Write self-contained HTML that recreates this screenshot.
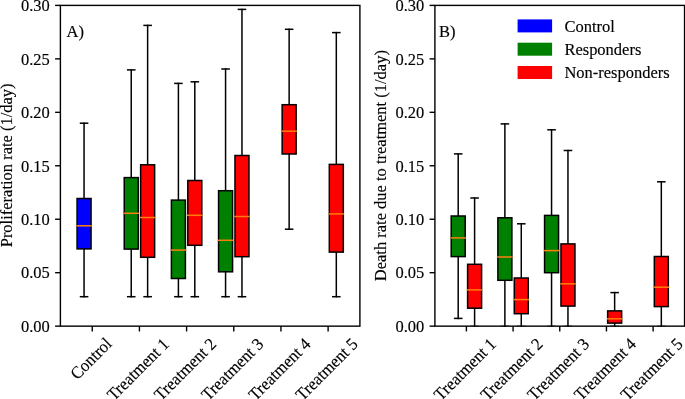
<!DOCTYPE html>
<html><head><meta charset="utf-8"><style>
html,body{margin:0;padding:0;background:#fff;}
svg{display:block;will-change:transform;filter:blur(0.3px);}
text{font-family:"Liberation Serif",serif;font-size:16.5px;fill:#000;stroke:#000;stroke-width:0.15px;}
.k{stroke:#000;stroke-width:1.5;stroke-linecap:square;}
.sp{stroke:#000;stroke-width:1.4;stroke-linecap:butt;}
.bx{stroke:#000;stroke-width:1.5;}
.md{stroke:#ff7f0e;stroke-width:1.5;stroke-linecap:square;}
</style></head><body>
<svg width="685" height="399" viewBox="0 0 685 399">
<line x1="55.1" y1="326.15" x2="60.4" y2="326.15" class="sp"/>
<text transform="translate(49.75,331.95) scale(1,1.045)" text-anchor="end">0.00</text>
<line x1="55.1" y1="272.69" x2="60.4" y2="272.69" class="sp"/>
<text transform="translate(49.75,278.49) scale(1,1.045)" text-anchor="end">0.05</text>
<line x1="55.1" y1="219.23" x2="60.4" y2="219.23" class="sp"/>
<text transform="translate(49.75,225.03) scale(1,1.045)" text-anchor="end">0.10</text>
<line x1="55.1" y1="165.77" x2="60.4" y2="165.77" class="sp"/>
<text transform="translate(49.75,171.57) scale(1,1.045)" text-anchor="end">0.15</text>
<line x1="55.1" y1="112.32" x2="60.4" y2="112.32" class="sp"/>
<text transform="translate(49.75,118.12) scale(1,1.045)" text-anchor="end">0.20</text>
<line x1="55.1" y1="58.86" x2="60.4" y2="58.86" class="sp"/>
<text transform="translate(49.75,64.66) scale(1,1.045)" text-anchor="end">0.25</text>
<line x1="55.1" y1="5.4" x2="60.4" y2="5.4" class="sp"/>
<text transform="translate(49.75,11.2) scale(1,1.045)" text-anchor="end">0.30</text>
<line x1="92.26" y1="326.15" x2="92.26" y2="331.45" class="sp"/>
<line x1="139.43" y1="326.15" x2="139.43" y2="331.45" class="sp"/>
<line x1="186.6" y1="326.15" x2="186.6" y2="331.45" class="sp"/>
<line x1="233.77" y1="326.15" x2="233.77" y2="331.45" class="sp"/>
<line x1="280.94" y1="326.15" x2="280.94" y2="331.45" class="sp"/>
<line x1="328.11" y1="326.15" x2="328.11" y2="331.45" class="sp"/>
<line x1="429.6" y1="326.15" x2="434.9" y2="326.15" class="sp"/>
<text transform="translate(424.25,331.95) scale(1,1.045)" text-anchor="end">0.00</text>
<line x1="429.6" y1="272.69" x2="434.9" y2="272.69" class="sp"/>
<text transform="translate(424.25,278.49) scale(1,1.045)" text-anchor="end">0.05</text>
<line x1="429.6" y1="219.23" x2="434.9" y2="219.23" class="sp"/>
<text transform="translate(424.25,225.03) scale(1,1.045)" text-anchor="end">0.10</text>
<line x1="429.6" y1="165.77" x2="434.9" y2="165.77" class="sp"/>
<text transform="translate(424.25,171.57) scale(1,1.045)" text-anchor="end">0.15</text>
<line x1="429.6" y1="112.32" x2="434.9" y2="112.32" class="sp"/>
<text transform="translate(424.25,118.12) scale(1,1.045)" text-anchor="end">0.20</text>
<line x1="429.6" y1="58.86" x2="434.9" y2="58.86" class="sp"/>
<text transform="translate(424.25,64.66) scale(1,1.045)" text-anchor="end">0.25</text>
<line x1="429.6" y1="5.4" x2="434.9" y2="5.4" class="sp"/>
<text transform="translate(424.25,11.2) scale(1,1.045)" text-anchor="end">0.30</text>
<line x1="466.4" y1="326.15" x2="466.4" y2="331.45" class="sp"/>
<line x1="513.08" y1="326.15" x2="513.08" y2="331.45" class="sp"/>
<line x1="559.76" y1="326.15" x2="559.76" y2="331.45" class="sp"/>
<line x1="606.44" y1="326.15" x2="606.44" y2="331.45" class="sp"/>
<line x1="653.12" y1="326.15" x2="653.12" y2="331.45" class="sp"/>
<line x1="84.06" y1="123.2" x2="84.06" y2="198.5" class="k"/>
<line x1="84.06" y1="248.9" x2="84.06" y2="296.7" class="k"/>
<line x1="80.51" y1="123.2" x2="87.61" y2="123.2" class="k"/>
<line x1="80.51" y1="296.7" x2="87.61" y2="296.7" class="k"/>
<rect x="77.06" y="198.5" width="14" height="50.4" fill="#0000ff" class="bx"/>
<line x1="77.06" y1="225.8" x2="91.06" y2="225.8" class="md"/>
<line x1="131.23" y1="69.9" x2="131.23" y2="177.6" class="k"/>
<line x1="131.23" y1="249.1" x2="131.23" y2="296.7" class="k"/>
<line x1="127.68" y1="69.9" x2="134.78" y2="69.9" class="k"/>
<line x1="127.68" y1="296.7" x2="134.78" y2="296.7" class="k"/>
<rect x="124.23" y="177.6" width="14" height="71.5" fill="#008000" class="bx"/>
<line x1="124.23" y1="213.3" x2="138.23" y2="213.3" class="md"/>
<line x1="147.63" y1="25.4" x2="147.63" y2="164.8" class="k"/>
<line x1="147.63" y1="257.3" x2="147.63" y2="296.7" class="k"/>
<line x1="144.08" y1="25.4" x2="151.18" y2="25.4" class="k"/>
<line x1="144.08" y1="296.7" x2="151.18" y2="296.7" class="k"/>
<rect x="140.63" y="164.8" width="14" height="92.5" fill="#ff0000" class="bx"/>
<line x1="140.63" y1="217.5" x2="154.63" y2="217.5" class="md"/>
<line x1="178.4" y1="83.4" x2="178.4" y2="200.1" class="k"/>
<line x1="178.4" y1="278.5" x2="178.4" y2="296.7" class="k"/>
<line x1="174.85" y1="83.4" x2="181.95" y2="83.4" class="k"/>
<line x1="174.85" y1="296.7" x2="181.95" y2="296.7" class="k"/>
<rect x="171.4" y="200.1" width="14" height="78.4" fill="#008000" class="bx"/>
<line x1="171.4" y1="250.1" x2="185.4" y2="250.1" class="md"/>
<line x1="194.8" y1="81.8" x2="194.8" y2="180.5" class="k"/>
<line x1="194.8" y1="245.3" x2="194.8" y2="296.7" class="k"/>
<line x1="191.25" y1="81.8" x2="198.35" y2="81.8" class="k"/>
<line x1="191.25" y1="296.7" x2="198.35" y2="296.7" class="k"/>
<rect x="187.8" y="180.5" width="14" height="64.8" fill="#ff0000" class="bx"/>
<line x1="187.8" y1="215.3" x2="201.8" y2="215.3" class="md"/>
<line x1="225.57" y1="69" x2="225.57" y2="190.7" class="k"/>
<line x1="225.57" y1="271.8" x2="225.57" y2="296.7" class="k"/>
<line x1="222.02" y1="69" x2="229.12" y2="69" class="k"/>
<line x1="222.02" y1="296.7" x2="229.12" y2="296.7" class="k"/>
<rect x="218.57" y="190.7" width="14" height="81.1" fill="#008000" class="bx"/>
<line x1="218.57" y1="240.3" x2="232.57" y2="240.3" class="md"/>
<line x1="241.97" y1="9.4" x2="241.97" y2="155.5" class="k"/>
<line x1="241.97" y1="256.7" x2="241.97" y2="296.7" class="k"/>
<line x1="238.42" y1="9.4" x2="245.52" y2="9.4" class="k"/>
<line x1="238.42" y1="296.7" x2="245.52" y2="296.7" class="k"/>
<rect x="234.97" y="155.5" width="14" height="101.2" fill="#ff0000" class="bx"/>
<line x1="234.97" y1="216.5" x2="248.97" y2="216.5" class="md"/>
<line x1="289.14" y1="29.3" x2="289.14" y2="104.7" class="k"/>
<line x1="289.14" y1="154" x2="289.14" y2="229.2" class="k"/>
<line x1="285.59" y1="29.3" x2="292.69" y2="29.3" class="k"/>
<line x1="285.59" y1="229.2" x2="292.69" y2="229.2" class="k"/>
<rect x="282.14" y="104.7" width="14" height="49.3" fill="#ff0000" class="bx"/>
<line x1="282.14" y1="131.2" x2="296.14" y2="131.2" class="md"/>
<line x1="336.31" y1="32.6" x2="336.31" y2="164.4" class="k"/>
<line x1="336.31" y1="252.1" x2="336.31" y2="296.7" class="k"/>
<line x1="332.76" y1="32.6" x2="339.86" y2="32.6" class="k"/>
<line x1="332.76" y1="296.7" x2="339.86" y2="296.7" class="k"/>
<rect x="329.31" y="164.4" width="14" height="87.7" fill="#ff0000" class="bx"/>
<line x1="329.31" y1="213.9" x2="343.31" y2="213.9" class="md"/>
<line x1="458.2" y1="153.9" x2="458.2" y2="216" class="k"/>
<line x1="458.2" y1="256.6" x2="458.2" y2="318.4" class="k"/>
<line x1="454.65" y1="153.9" x2="461.75" y2="153.9" class="k"/>
<line x1="454.65" y1="318.4" x2="461.75" y2="318.4" class="k"/>
<rect x="451.2" y="216" width="14" height="40.6" fill="#008000" class="bx"/>
<line x1="451.2" y1="237.9" x2="465.2" y2="237.9" class="md"/>
<line x1="474.6" y1="198" x2="474.6" y2="264.3" class="k"/>
<line x1="474.6" y1="308.2" x2="474.6" y2="326.15" class="k"/>
<line x1="471.05" y1="198" x2="478.15" y2="198" class="k"/>
<line x1="471.05" y1="325.9" x2="478.15" y2="325.9" class="k" stroke-opacity="0.35"/>
<rect x="467.6" y="264.3" width="14" height="43.9" fill="#ff0000" class="bx"/>
<line x1="467.6" y1="289.9" x2="481.6" y2="289.9" class="md"/>
<line x1="504.88" y1="123.9" x2="504.88" y2="217.8" class="k"/>
<line x1="504.88" y1="280.3" x2="504.88" y2="326.15" class="k"/>
<line x1="501.33" y1="123.9" x2="508.43" y2="123.9" class="k"/>
<line x1="501.33" y1="325.9" x2="508.43" y2="325.9" class="k" stroke-opacity="0.35"/>
<rect x="497.88" y="217.8" width="14" height="62.5" fill="#008000" class="bx"/>
<line x1="497.88" y1="257" x2="511.88" y2="257" class="md"/>
<line x1="521.28" y1="223.8" x2="521.28" y2="278" class="k"/>
<line x1="521.28" y1="313.7" x2="521.28" y2="326.15" class="k"/>
<line x1="517.73" y1="223.8" x2="524.83" y2="223.8" class="k"/>
<line x1="517.73" y1="325.9" x2="524.83" y2="325.9" class="k" stroke-opacity="0.35"/>
<rect x="514.28" y="278" width="14" height="35.7" fill="#ff0000" class="bx"/>
<line x1="514.28" y1="299.6" x2="528.28" y2="299.6" class="md"/>
<line x1="551.56" y1="129.8" x2="551.56" y2="215.4" class="k"/>
<line x1="551.56" y1="272.7" x2="551.56" y2="326.15" class="k"/>
<line x1="548.01" y1="129.8" x2="555.11" y2="129.8" class="k"/>
<line x1="548.01" y1="325.9" x2="555.11" y2="325.9" class="k" stroke-opacity="0.35"/>
<rect x="544.56" y="215.4" width="14" height="57.3" fill="#008000" class="bx"/>
<line x1="544.56" y1="250.6" x2="558.56" y2="250.6" class="md"/>
<line x1="567.96" y1="150.5" x2="567.96" y2="243.9" class="k"/>
<line x1="567.96" y1="306.1" x2="567.96" y2="326.15" class="k"/>
<line x1="564.41" y1="150.5" x2="571.51" y2="150.5" class="k"/>
<line x1="564.41" y1="325.9" x2="571.51" y2="325.9" class="k" stroke-opacity="0.35"/>
<rect x="560.96" y="243.9" width="14" height="62.2" fill="#ff0000" class="bx"/>
<line x1="560.96" y1="283.8" x2="574.96" y2="283.8" class="md"/>
<line x1="614.64" y1="292.6" x2="614.64" y2="310.9" class="k"/>
<line x1="614.64" y1="323.1" x2="614.64" y2="326.15" class="k"/>
<line x1="611.09" y1="292.6" x2="618.19" y2="292.6" class="k"/>
<line x1="611.09" y1="325.9" x2="618.19" y2="325.9" class="k" stroke-opacity="0.35"/>
<rect x="607.64" y="310.9" width="14" height="12.2" fill="#ff0000" class="bx"/>
<line x1="607.64" y1="318.8" x2="621.64" y2="318.8" class="md"/>
<line x1="661.32" y1="181.8" x2="661.32" y2="256.5" class="k"/>
<line x1="661.32" y1="306.6" x2="661.32" y2="326.15" class="k"/>
<line x1="657.77" y1="181.8" x2="664.87" y2="181.8" class="k"/>
<line x1="657.77" y1="325.9" x2="664.87" y2="325.9" class="k" stroke-opacity="0.35"/>
<rect x="654.32" y="256.5" width="14" height="50.1" fill="#ff0000" class="bx"/>
<line x1="654.32" y1="287.2" x2="668.32" y2="287.2" class="md"/>
<rect x="60.4" y="5.4" width="299.5" height="320.75" fill="none" stroke="#000" stroke-width="1.4"/>
<rect x="434.9" y="5.4" width="249.65" height="320.75" fill="none" stroke="#000" stroke-width="1.4"/>
<text transform="translate(77.24,380.45) rotate(-45) scale(1,1.045)">Control</text>
<text transform="translate(113.89,401.49) rotate(-45) scale(1,1.045)">Treatment 1</text>
<text transform="translate(161.06,401.49) rotate(-45) scale(1,1.045)">Treatment 2</text>
<text transform="translate(208.23,401.49) rotate(-45) scale(1,1.045)">Treatment 3</text>
<text transform="translate(255.4,401.49) rotate(-45) scale(1,1.045)">Treatment 4</text>
<text transform="translate(302.57,401.49) rotate(-45) scale(1,1.045)">Treatment 5</text>
<text transform="translate(440.86,401.49) rotate(-45) scale(1,1.045)">Treatment 1</text>
<text transform="translate(487.54,401.49) rotate(-45) scale(1,1.045)">Treatment 2</text>
<text transform="translate(534.22,401.49) rotate(-45) scale(1,1.045)">Treatment 3</text>
<text transform="translate(580.9,401.49) rotate(-45) scale(1,1.045)">Treatment 4</text>
<text transform="translate(627.58,401.49) rotate(-45) scale(1,1.045)">Treatment 5</text>
<text transform="translate(11.8,165.35) rotate(-90) scale(1,1.045)" text-anchor="middle">Proliferation rate (1/day)</text>
<text transform="translate(386.3,165.65) rotate(-90) scale(1,1.045)" text-anchor="middle">Death rate due to treatment (1/day)</text>
<text transform="translate(66.6,37.3) scale(1,1.045)">A)</text>
<text transform="translate(439.0,37.1) scale(1,1.045)">B)</text>
<rect x="517.6" y="19.4" width="34.5" height="13.0" fill="#0000ff"/>
<text transform="translate(564.4,31.9) scale(1,1.045)">Control</text>
<rect x="517.6" y="42.7" width="34.5" height="13.0" fill="#008000"/>
<text transform="translate(564.4,55) scale(1,1.045)">Responders</text>
<rect x="517.6" y="66" width="34.5" height="13.0" fill="#ff0000"/>
<text transform="translate(564.4,78.1) scale(1,1.045)">Non-responders</text>
</svg>
</body></html>
